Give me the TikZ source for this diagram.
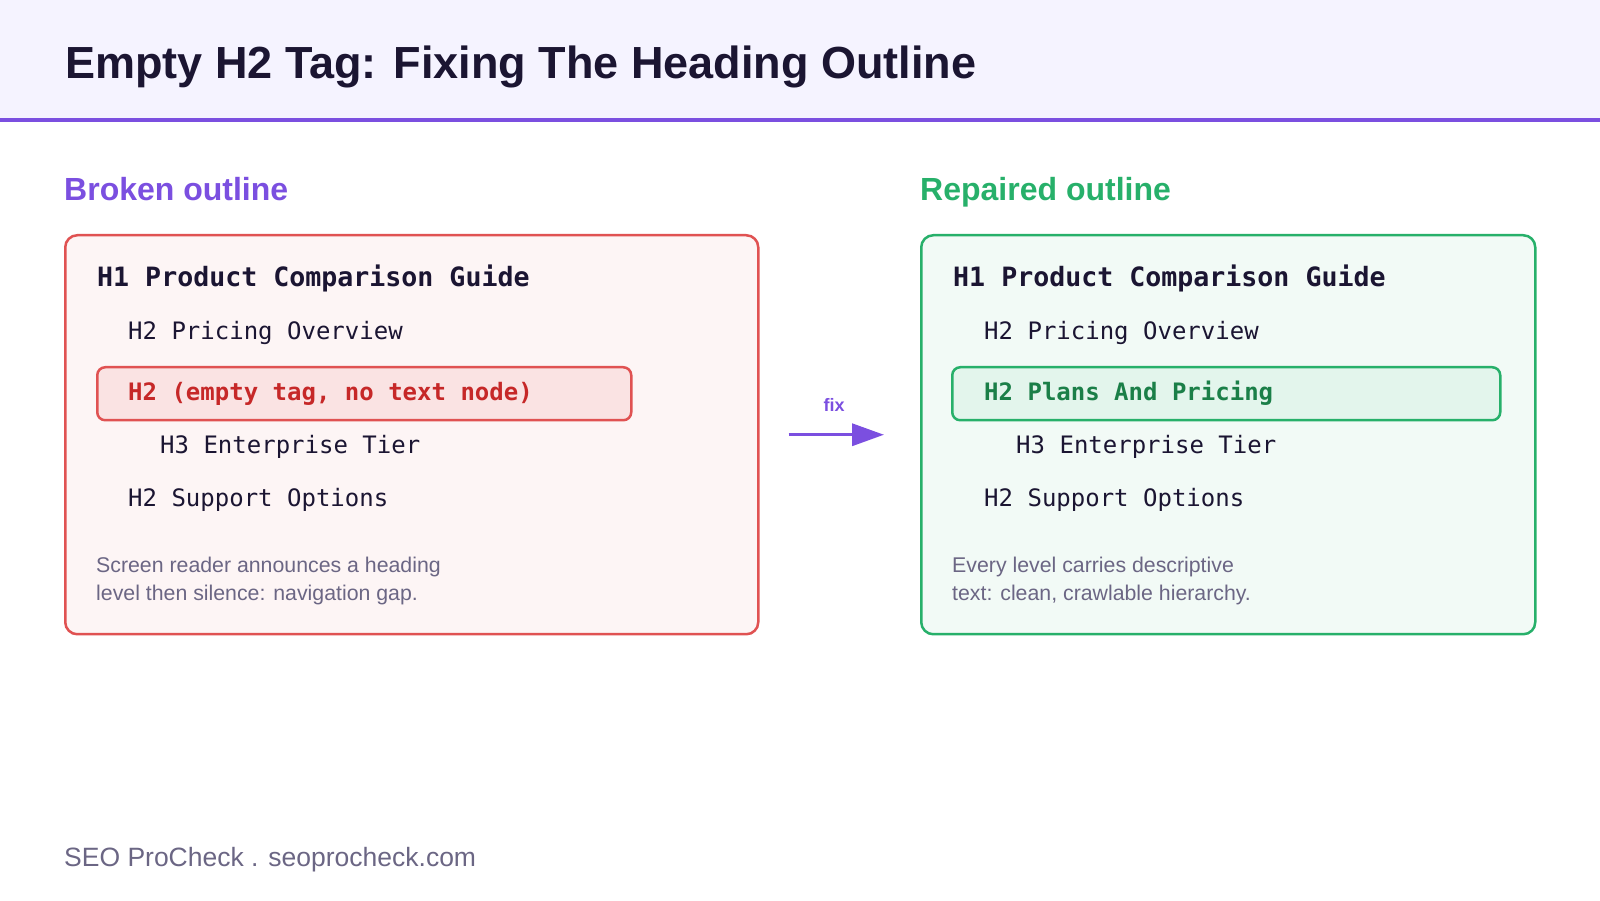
\documentclass[tikz,border=0pt]{standalone}
\usepackage{fontspec}
\setmainfont{Liberation Sans}
\setmonofont{DejaVu Sans Mono}
\usetikzlibrary{arrows.meta}
\definecolor{SEOInk}{HTML}{1B1532}
\definecolor{SEOBand}{HTML}{F5F3FF}
\definecolor{SEOPurple}{HTML}{7B4FE0}
\definecolor{SEOGreen}{HTML}{27B06A}
\definecolor{SEOGreenDark}{HTML}{1B7F48}
\definecolor{SEORed}{HTML}{E05252}
\definecolor{SEORedDark}{HTML}{C62828}
\definecolor{SEOMuted}{HTML}{6B6684}

\begin{document}
\begin{tikzpicture}[
  x=1pt, y=1pt,
  txt/.style={anchor=base west, inner sep=0pt, text=SEOInk},
  headmono/.style={txt, font=\fontsize{26.6}{30}\selectfont\ttfamily\bfseries},
  rowmono/.style={txt, font=\fontsize{24}{28}\selectfont\ttfamily},
  note/.style={txt, text=SEOMuted, font=\fontsize{21.3}{25}\selectfont},
  panel/.style={anchor=north west, rounded corners=12pt, line width=2.5pt, minimum height=399pt, inner sep=0pt},
  rowbox/.style={anchor=north west, rounded corners=8pt, line width=2.5pt, minimum height=53pt, inner sep=0pt},
  fixarrow/.style={-{Triangle[length=32pt,width=22pt]}, line width=3.5pt, draw=SEOPurple}
]
\useasboundingbox (0,0) rectangle (1600,900);
% header band
\fill[SEOBand] (0,781) rectangle (1600,900);
\draw[SEOPurple, line width=4pt] (0,780) -- (1600,780);
\node[txt, font=\fontsize{45}{54}\selectfont\bfseries] (title) at (65,821) {Empty H2 Tag: Fixing The Heading Outline};

% broken side
\node[txt, text=SEOPurple, font=\fontsize{32}{38}\selectfont\bfseries] (brokenlbl) at (64,699) {Broken outline};
\node[panel, draw=SEORed, fill=SEORed!6, minimum width=693pt] (broken) at (64,666) {};
\node[rowbox, draw=SEORed, fill=SEORed!16, minimum width=534pt] (emptyrow) at (96,534) {};
\node[headmono] (bh1) at (97,613) {H1 Product Comparison Guide};
\node[rowmono] (bh2a) at (128,560) {H2 Pricing Overview};
\node[rowmono, text=SEORedDark, font=\fontsize{24}{28}\selectfont\ttfamily\bfseries] (bh2b) at (128,499) {H2 (empty tag, no text node)};
\node[rowmono] (bh3) at (160,446) {H3 Enterprise Tier};
\node[rowmono] (bh2c) at (128,393) {H2 Support Options};
\node[note] (bnote1) at (96,327) {Screen reader announces a heading};
\node[note] (bnote2) at (96,299) {level then silence: navigation gap.};

% repaired side
\node[txt, text=SEOGreen, font=\fontsize{32}{38}\selectfont\bfseries] (fixedlbl) at (920,699) {Repaired outline};
\node[panel, draw=SEOGreen, fill=SEOGreen!6, minimum width=614pt] (repaired) at (920,666) {};
\node[rowbox, draw=SEOGreen, fill=SEOGreen!13, minimum width=548pt] (fixedrow) at (951,534) {};
\node[headmono] (rh1) at (953,613) {H1 Product Comparison Guide};
\node[rowmono] (rh2a) at (984,560) {H2 Pricing Overview};
\node[rowmono, text=SEOGreenDark, font=\fontsize{24}{28}\selectfont\ttfamily\bfseries] (rh2b) at (984,499) {H2 Plans And Pricing};
\node[rowmono] (rh3) at (1016,446) {H3 Enterprise Tier};
\node[rowmono] (rh2c) at (984,393) {H2 Support Options};
\node[note] (rnote1) at (952,327) {Every level carries descriptive};
\node[note] (rnote2) at (952,299) {text: clean, crawlable hierarchy.};

% fix arrow
\draw[fixarrow] ([xshift=29pt]broken.east) -- ([xshift=-36pt]repaired.west);
\node[anchor=base, inner sep=0pt, text=SEOPurple, font=\fontsize{18}{22}\selectfont\bfseries] (fixlbl) at (834,488) {fix};

% footer
\node[txt, text=SEOMuted, font=\fontsize{26.5}{30}\selectfont] (footer) at (64,34) {SEO ProCheck . seoprocheck.com};
\end{tikzpicture}
\end{document}
